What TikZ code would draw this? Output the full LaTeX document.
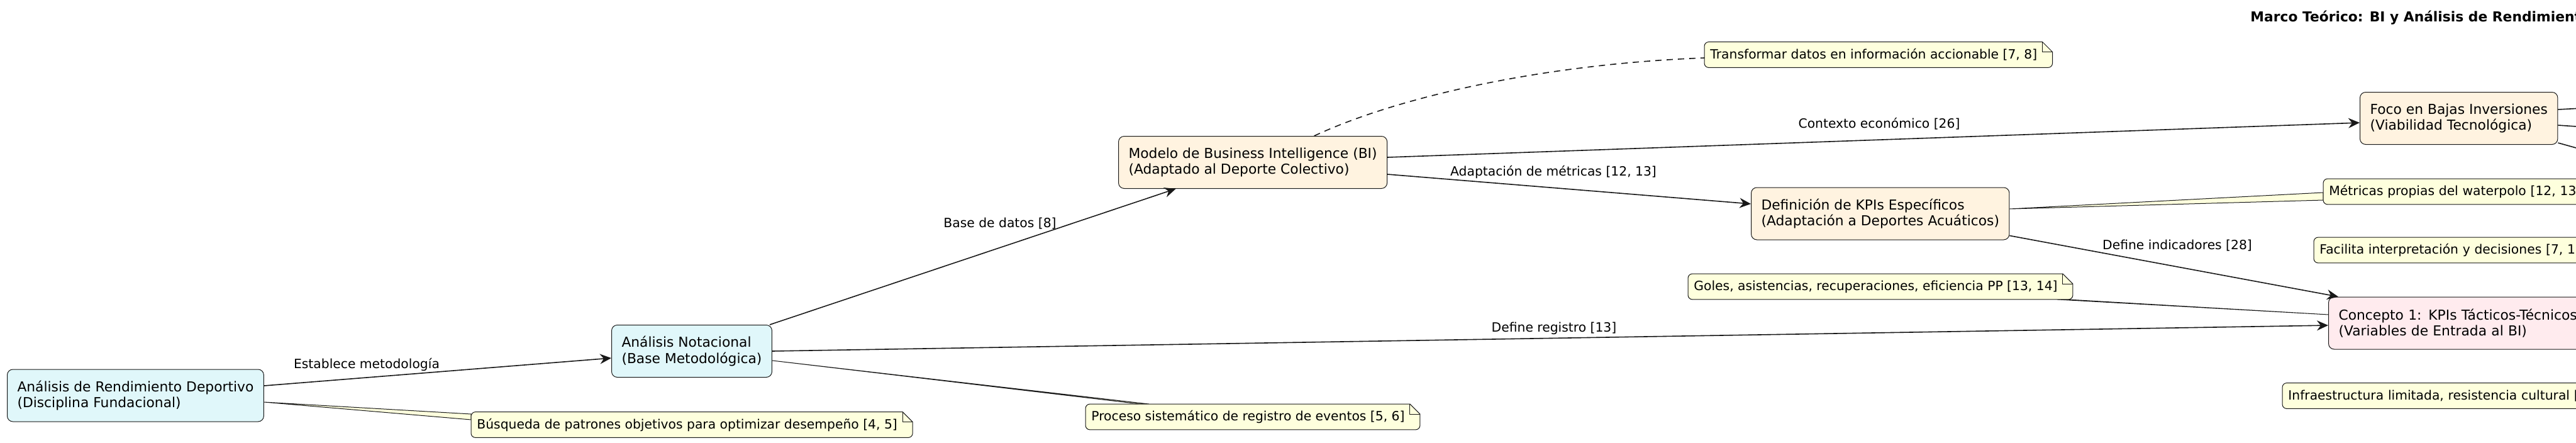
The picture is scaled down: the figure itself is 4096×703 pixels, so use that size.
\documentclass[tikz,border=0pt]{standalone}
\usepackage{fontspec}
\setmainfont{DejaVu Sans}
\usetikzlibrary{arrows.meta,calc,positioning}

\definecolor{fundfill}{HTML}{E0F7FA}
\definecolor{bifill}{HTML}{FFF3E0}
\definecolor{conceptfill}{HTML}{FFEBEE}
\definecolor{notefill}{HTML}{FEFFDD}
\definecolor{linecol}{HTML}{181818}

\pgfdeclarelayer{background}
\pgfsetlayers{background,main}

\newcommand{\nodefont}{\fontsize{10.9pt}{12.7pt}\selectfont}
\newcommand{\notefont}{\fontsize{10.15pt}{12pt}\selectfont}

% paper of a note, folded at the top right
\newcommand{\notebox}[1]{%
  \filldraw[notepaper] ([xshift=-0.5pt]#1.north east) [rounded corners=3.5pt] -- (#1.north west) -- (#1.south west) -- ([xshift=7.5pt]#1.south east) [sharp corners] -- ([xshift=7.5pt,yshift=-8pt]#1.north east) -- cycle;
  \draw[notefold] ([xshift=-0.5pt]#1.north east) -- ([xshift=-0.5pt,yshift=-8pt]#1.north east) -- ([xshift=7.5pt,yshift=-8pt]#1.north east);
}

\begin{document}
\begin{tikzpicture}[
    x=0.5pt, y=-0.5pt,
    block/.style={rectangle, rounded corners=4.5pt, draw=linecol, line width=0.5pt, align=left, font=\nodefont, inner xsep=8pt, inner ysep=0pt, minimum height=41.5pt, anchor=west},
    fund/.style={block, fill=fundfill},
    bimodel/.style={block, fill=bifill},
    concept/.style={block, fill=conceptfill},
    note/.style={rectangle, align=left, font=\notefont, inner xsep=4.5pt, inner ysep=0pt, minimum height=20pt, anchor=west},
    notepaper/.style={fill=notefill, draw=linecol, line width=0.5pt},
    notefold/.style={draw=linecol, line width=0.5pt},
    wedge/.style={fill=notefill, draw=linecol, line width=0.5pt},
    edgelabel/.style={font=\notefont, inner sep=0pt},
    titletext/.style={font=\nodefont\bfseries, inner sep=0pt, anchor=west},
    arrow/.style={draw=linecol, line width=0.8pt, -{Stealth[length=9pt,width=8pt,inset=3pt]}},
    link/.style={draw=linecol, line width=0.8pt},
    dashlink/.style={draw=linecol, line width=0.8pt, dash pattern=on 5pt off 4pt}
]
    \useasboundingbox (0,0) rectangle (4096,703);
    \clip (0,0) rectangle (4096,703);

    \node[titletext] (title) at (3578,28) {Marco Teórico: BI y Análisis de Rendimiento};

    % concepts
    \node[fund] (rend) at (11,628.5) {Análisis de Rendimiento Deportivo\\(Disciplina Fundacional)};
    \node[fund] (notac) at (972,558) {Análisis Notacional\\(Base Metodológica)};
    \node[bimodel] (bi) at (1778,258) {Modelo de Business Intelligence (BI)\\(Adaptado al Deporte Colectivo)};
    \node[bimodel] (kpis) at (2784,339.5) {Definición de KPIs Específicos\\(Adaptación a Deportes Acuáticos)};
    \node[bimodel] (foco) at (3752,188) {Foco en Bajas Inversiones\\(Viabilidad Tecnológica)};
    \node[concept, text width=300pt] (kpitt) at (3702,513.5) {Concepto 1: KPIs Tácticos-Técnicos\\(Variables de Entrada al BI)};

    % notes
    \node[note] (busq) at (749,675) {Búsqueda de patrones objetivos para optimizar desempeño [4, 5]};
    \node[note] (proc) at (1726,662.5) {Proceso sistemático de registro de eventos [5, 6]};
    \node[note] (transf) at (2710,87) {Transformar datos en información accionable [7, 8]};
    \node[note] (goles) at (2684,455.5) {Goles, asistencias, recuperaciones, eficiencia PP [13, 14]};
    \node[note, text width=260pt] (metr) at (3694,304.5) {Métricas propias del waterpolo [12, 13]};
    \node[note, text width=260pt] (facil) at (3679,397.5) {Facilita interpretación y decisiones [7, 1};
    \node[note, text width=300pt] (infra) at (3629,629) {Infraestructura limitada, resistencia cultural [};

    % labels
    \node[edgelabel] (lblmet) at (583,579) {Establece metodología};
    \node[edgelabel] (lblbase) at (1590,355) {Base de datos [8]};
    \node[edgelabel] (lblreg) at (2471,522) {Define registro [13]};
    \node[edgelabel] (lblctx) at (2988,197) {Contexto económico [26]};
    \node[edgelabel] (lbladap) at (2470,273) {Adaptación de métricas [12, 13]};
    \node[edgelabel] (lblind) at (3462,390) {Define indicadores [28]};

    % connectors
    \draw[arrow] ($(rend.east)+(0,-15.5)$) -- ($(notac.west)+(0,11)$);
    \draw[arrow] ($(notac.north east)+(-4,0)$) -- ($(bi.south)+(-122.5,0)$);
    \draw[arrow] (notac.east) -- ($(kpitt.west)+(0,3.5)$);
    \draw[arrow] ($(bi.east)+(0,-8)$) -- ($(foco.west)+(0,7)$);
    \draw[arrow] ($(bi.east)+(0,19)$) -- ($(kpis.west)+(0,-15.5)$);
    \draw[arrow] ($(kpis.east)+(0,35)$) -- ($(kpitt.north west)+(16,0)$);
    \draw[dashlink] ($(bi.north)+(97.5,0)$) .. controls (2220,155) and (2450,102) .. ($(transf.west)+(0,5)$);

    \coordinate (outa) at (4200,167);
    \coordinate (outb) at (4200,208);
    \coordinate (outc) at (4200,264);
    \draw[link] ($(foco.east)+(0,-14)$) -- (outa);
    \draw[link] ($(foco.east)+(0,11)$) -- (outb);
    \draw[link] ($(foco.east)+(0,39)$) -- (outc);

    \begin{pgfonlayer}{background}
        \filldraw[wedge] ($(rend.east)+(0,10.5)$) -- ($(busq.west)+(0,-17)$) -- ($(busq.west)+(0,-8)$) -- cycle;
        \filldraw[wedge] ($(notac.east)+(0,15)$) -- ($(proc.north west)+(87,0)$) -- ($(proc.north west)+(101,0)$) -- cycle;
        \filldraw[wedge] ($(kpis.east)+(0,-7.5)$) -- ($(metr.west)+(0,1.5)$) -- ($(metr.west)+(0,13.5)$) -- cycle;
        \filldraw[wedge] ($(kpitt.west)+(0,-13.5)$) -- ($(goles.south east)+(-10,0)$) -- ($(goles.south east)+(6,0)$) -- cycle;
        \notebox{busq}
        \notebox{proc}
        \notebox{transf}
        \notebox{goles}
        \notebox{metr}
        \notebox{facil}
        \notebox{infra}
    \end{pgfonlayer}
\end{tikzpicture}
\end{document}
